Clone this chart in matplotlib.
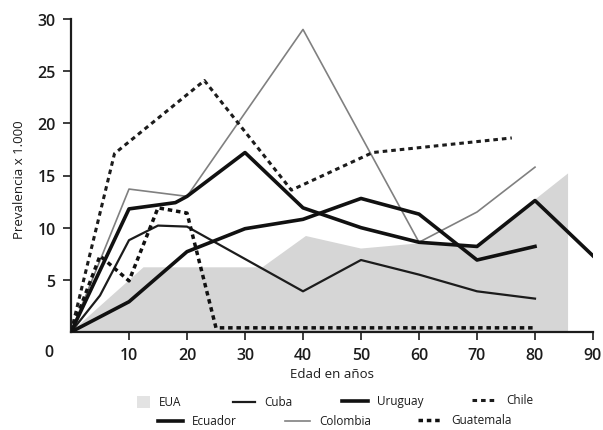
import matplotlib
matplotlib.use("Agg")
import matplotlib.pyplot as plt
from matplotlib.lines import Line2D
from matplotlib.patches import Rectangle

plt.rcParams['font.family'] = ['Open Sans', 'DejaVu Sans']

# Data (age in years, prevalence x 1.000)
eua_age = [0, 12.5, 33, 40.5, 50, 60, 70, 85.7, 85.7]
eua_val = [0, 6.2, 6.2, 9.2, 8.0, 8.5, 8.3, 15.2, 0]

cuba_age = [0, 5, 10, 15, 20, 40, 50, 60, 70, 80]
cuba_val = [0, 3.5, 8.8, 10.2, 10.1, 3.9, 6.9, 5.5, 3.9, 3.2]

uruguay_age = [0, 10, 18, 20, 30, 40, 50, 60, 70, 80, 90]
uruguay_val = [0, 11.8, 12.4, 13.0, 17.2, 11.9, 10.0, 8.6, 8.2, 12.6, 7.3]

ecuador_age = [0, 10, 20, 30, 40, 50, 60, 70, 80]
ecuador_val = [0, 2.9, 7.7, 9.9, 10.8, 12.8, 11.3, 6.9, 8.2]

colombia_age = [0, 10, 20, 40, 60, 70, 80]
colombia_val = [0, 13.7, 13.0, 29.0, 8.6, 11.5, 15.8]

chile_age = [0, 7.5, 23, 38, 52, 76]
chile_val = [0, 17.1, 24.1, 13.6, 17.2, 18.6]

guatemala_age = [0, 5, 10, 15, 20, 25, 80]
guatemala_val = [0, 7.3, 4.9, 11.9, 11.4, 0.4, 0.4]

x_ticks = [10, 20, 30, 40, 50, 60, 70, 80, 90]
y_ticks = [5, 10, 15, 20, 25, 30]

ink = '#1c1c1c'
chile_style = dict(color=ink, lw=2.2, dashes=(1.5, 1.3))
guate_style = dict(color='#111111', lw=2.5, dashes=(1.3, 1.1))
thick_style = dict(color='#111111', lw=2.6)
cuba_style = dict(color=ink, lw=1.6)
colombia_style = dict(color='#808080', lw=1.2)

fig = plt.figure(figsize=(6.03, 4.31), dpi=100)
ax = fig.add_axes([71 / 603, 1 - 333 / 431, 522 / 603, 313 / 431])

# EUA shaded area
ax.fill(eua_age, eua_val, color='#d6d6d6', lw=0, zorder=1)

ax.plot(colombia_age, colombia_val, zorder=3, **colombia_style)
ax.plot(cuba_age, cuba_val, zorder=4, **cuba_style)
ax.plot(uruguay_age, uruguay_val, zorder=5, **thick_style)
ax.plot(ecuador_age, ecuador_val, zorder=5, **thick_style)
ax.plot(chile_age, chile_val, zorder=6, **chile_style)
ax.plot(guatemala_age, guatemala_val, zorder=6, **guate_style)

ax.set_xlim(0, 90)
ax.set_ylim(0, 30)
for side in ['top', 'right']:
    ax.spines[side].set_visible(False)
for side in ['left', 'bottom']:
    ax.spines[side].set_linewidth(1.6)
    ax.spines[side].set_color(ink)

ax.set_xticks(x_ticks)
ax.set_yticks(y_ticks)
ax.tick_params(direction='out', length=6, width=1.2, color=ink,
               labelsize=11.5, labelcolor=ink, pad=5)
for lbl in ax.get_xticklabels() + ax.get_yticklabels():
    lbl.set_fontweight('semibold')
ax.text(-3, -1.95, '0', ha='right', va='center', fontsize=11.5, color=ink,
        fontweight='semibold', clip_on=False)

ax.set_xlabel('Edad en años', fontsize=9.5, color=ink, labelpad=3)
fig.text(20 / 603, 1 - 180 / 431, 'Prevalencia x 1.000', rotation=90,
         ha='center', va='center', fontsize=9.5, color=ink)

# Legend drawn by hand to match the original layout
def px(x, y):
    return x / 603, 1 - y / 431

legend_items = [
    ('EUA', 'patch', 137, 150, 403),
    ('Cuba', cuba_style, 233, 255, 403),
    ('Uruguay', thick_style, 342, 368, 402),
    ('Chile', chile_style, 472, 497, 401),
    ('Ecuador', thick_style, 158, 183, 422),
    ('Colombia', colombia_style, 285, 310, 422),
    ('Guatemala', guate_style, 418, 442, 421),
]
for label, style, x0, x1, y in legend_items:
    if style == 'patch':
        fx, fy = px(x0, y + 6)
        fig.add_artist(Rectangle((fx, fy), (x1 - x0) / 603, 12 / 431,
                                 transform=fig.transFigure, color='#e3e3e3', lw=0))
    else:
        (a, b), (c, _) = px(x0, y), px(x1, y)
        fig.add_artist(Line2D([a, c], [b, b], transform=fig.transFigure, **style))
    tx, ty = px(x1 + 9, y)
    fig.text(tx, ty, label, ha='left', va='center', fontsize=8.5, color=ink)

fig.savefig('out.png', dpi=100)
